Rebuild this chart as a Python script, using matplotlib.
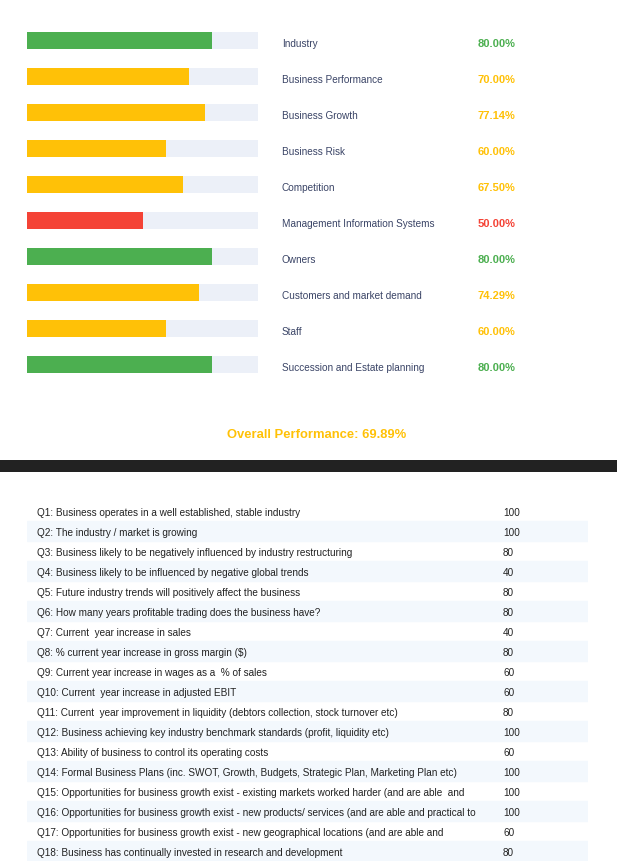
import matplotlib
matplotlib.use("Agg")
import matplotlib.pyplot as plt
import matplotlib.transforms as mtransforms
from matplotlib.patches import Rectangle

plt.rcParams['font.family'] = ['Liberation Sans', 'DejaVu Sans']

# ---- data ----
categories = ["Industry", "Business Performance", "Business Growth", "Business Risk",
              "Competition", "Management Information Systems", "Owners",
              "Customers and market demand", "Staff", "Succession and Estate planning"]
scores = [80.00, 70.00, 77.14, 60.00, 67.50, 50.00, 80.00, 74.29, 60.00, 80.00]
overall = 69.89

questions = [
    "Q1: Business operates in a well established, stable industry",
    "Q2: The industry / market is growing",
    "Q3: Business likely to be negatively influenced by industry restructuring",
    "Q4: Business likely to be influenced by negative global trends",
    "Q5: Future industry trends will positively affect the business",
    "Q6: How many years profitable trading does the business have?",
    "Q7: Current  year increase in sales",
    "Q8: % current year increase in gross margin ($)",
    "Q9: Current year increase in wages as a  % of sales",
    "Q10: Current  year increase in adjusted EBIT",
    "Q11: Current  year improvement in liquidity (debtors collection, stock turnover etc)",
    "Q12: Business achieving key industry benchmark standards (profit, liquidity etc)",
    "Q13: Ability of business to control its operating costs",
    "Q14: Formal Business Plans (inc. SWOT, Growth, Budgets, Strategic Plan, Marketing Plan etc)",
    "Q15: Opportunities for business growth exist - existing markets worked harder (and are able  and",
    "Q16: Opportunities for business growth exist - new products/ services (and are able and practical to",
    "Q17: Opportunities for business growth exist - new geographical locations (and are able and",
    "Q18: Business has continually invested in research and development",
]
answers = [100, 100, 80, 40, 80, 80, 40, 80, 60, 60, 80, 100, 60, 100, 100, 100, 60, 80]

GREEN, YELLOW, RED = "#4CAF50", "#FFC107", "#F44336"
TRACK = "#ECF0F8"
LABEL_C = "#3A4466"


def color_for(v):
    if v >= 80:
        return GREEN
    if v > 50:
        return YELLOW
    return RED


W, H = 617, 867
fig = plt.figure(figsize=(W / 100, H / 100), dpi=100)


def fx(px):
    return px / W


def fy(px):
    return 1 - px / H


# ---- bars ----
ax = fig.add_axes([fx(27), fy(382.5), fx(231), 360 / H])
ypos = list(range(len(categories)))
ax.barh(ypos, [100] * len(categories), height=0.472, color=TRACK, zorder=1)
ax.barh(ypos, scores, height=0.472, color=[color_for(s) for s in scores], zorder=2)
ax.set_xlim(0, 100)
ax.set_ylim(len(categories) - 0.5, -0.5)
ax.axis('off')

tr = mtransforms.blended_transform_factory(fig.transFigure, ax.transData)
for i, (c, s) in enumerate(zip(categories, scores)):
    ax.text(fx(282), i + 0.11, c, transform=tr, ha='left', va='center',
            fontsize=7.2, color=LABEL_C)
    ax.text(fx(478), i + 0.11, f"{s:.2f}%", transform=tr, ha='left', va='center',
            fontsize=8.0, color=color_for(s), fontweight='bold')

fig.text(fx(317), fy(435), f"Overall Performance: {overall:.2f}%", ha='center',
         va='center', fontsize=9.4, fontweight='bold', color=YELLOW)

# dark band
fig.patches.append(Rectangle((0, fy(472)), 1, 12 / H, transform=fig.transFigure,
                             facecolor="#222222", edgecolor='none'))

# ---- table ----
tax = fig.add_axes([fx(27), fy(861), fx(561), 360 / H])
n = len(questions)
tax.set_xlim(0, 1)
tax.set_ylim(n - 0.5, -0.5)
tax.axis('off')
for i, (q, a) in enumerate(zip(questions, answers)):
    if i % 2 == 1:
        tax.axhspan(i - 0.5, i + 0.5, color="#F3F8FD", zorder=0)
    tax.text((37 - 27) / 561, i + 0.08, q, ha='left', va='center', fontsize=7.2,
             color="#222222")
    tax.text((503 - 27) / 561, i + 0.08, str(a), ha='left', va='center', fontsize=7.2,
             color="#222222")

fig.savefig("out.png", dpi=100)
